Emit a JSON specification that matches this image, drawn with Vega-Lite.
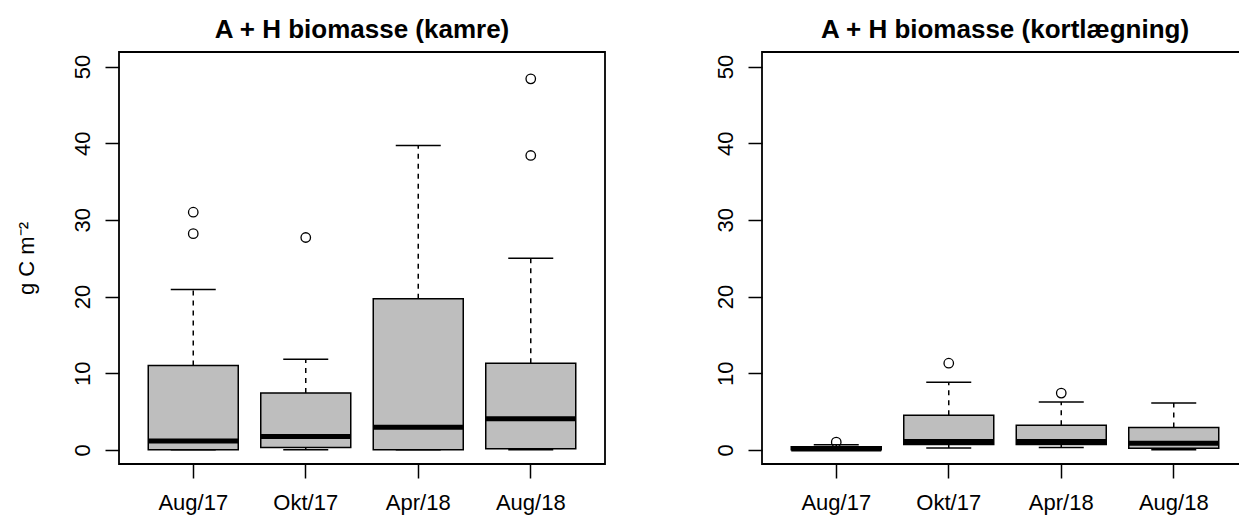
{
  "$schema": "https://vega.github.io/schema/vega-lite/v6.json",
  "autosize": {"type": "none"},
  "padding": {"left": 119, "top": 52, "right": 1120, "bottom": 51},
  "background": "white",
  "spacing": 157,
  "bounds": "flush",
  "config": {
    "font": "Liberation Sans",
    "view": {"stroke": "#000", "strokeWidth": 1.8},
    "axis": {
      "grid": false, "domain": false, "tickColor": "#000", "tickWidth": 1.5, "tickSize": 14,
      "labelFont": "Liberation Sans", "labelFontSize": 22, "labelColor": "#000",
      "titleFont": "Liberation Sans", "titleFontSize": 22, "titleColor": "#000", "titleFontWeight": "normal"
    },
    "title": {"font": "Liberation Sans", "fontSize": 26, "fontWeight": "bold", "color": "#000", "offset": 9}
  },
  "datasets": {
    "stats": [
      {"panel": "kamre", "g": "Aug/17", "lo": 0, "q1": 0, "med": 1.15, "q3": 11.0, "hi": 20.9},
      {"panel": "kamre", "g": "Okt/17", "lo": 0, "q1": 0.3, "med": 1.75, "q3": 7.4, "hi": 11.8},
      {"panel": "kamre", "g": "Apr/18", "lo": 0, "q1": 0, "med": 2.95, "q3": 19.7, "hi": 39.7},
      {"panel": "kamre", "g": "Aug/18", "lo": 0, "q1": 0.15, "med": 4.05, "q3": 11.3, "hi": 25.0},
      {"panel": "kort", "g": "Aug/17", "lo": 0, "q1": 0, "med": 0.1, "q3": 0.4, "hi": 0.65},
      {"panel": "kort", "g": "Okt/17", "lo": 0.25, "q1": 0.7, "med": 1.1, "q3": 4.5, "hi": 8.8},
      {"panel": "kort", "g": "Apr/18", "lo": 0.3, "q1": 0.7, "med": 1.1, "q3": 3.2, "hi": 6.25},
      {"panel": "kort", "g": "Aug/18", "lo": 0, "q1": 0.2, "med": 0.85, "q3": 2.9, "hi": 6.1}
    ],
    "out": [
      {"panel": "kamre", "g": "Aug/17", "v": 31.0},
      {"panel": "kamre", "g": "Aug/17", "v": 28.2},
      {"panel": "kamre", "g": "Okt/17", "v": 27.7},
      {"panel": "kamre", "g": "Aug/18", "v": 48.4},
      {"panel": "kamre", "g": "Aug/18", "v": 38.4},
      {"panel": "kort", "g": "Aug/17", "v": 1.0},
      {"panel": "kort", "g": "Okt/17", "v": 11.3},
      {"panel": "kort", "g": "Apr/18", "v": 7.4}
    ]
  },
  "hconcat": [
    {
      "width": 486, "height": 412,
      "title": "A + H biomasse (kamre)",
      "data": {"name": "stats"},
      "encoding": {
        "x": {"field": "g", "type": "nominal", "sort": ["Aug/17", "Okt/17", "Apr/18", "Aug/18"],
          "scale": {"paddingInner": 0.2, "paddingOuter": 0.26},
          "axis": {"title": null, "labelAngle": 0, "labelPadding": 14, "labelBaseline": "top"}}
      },
      "layer": [
        {"transform": [{"filter": "datum.panel == 'kamre'"}],
         "mark": {"type": "rule", "strokeDash": [5, 5], "strokeWidth": 1.5, "color": "#000"},
         "encoding": {
           "y": {"field": "lo", "type": "quantitative", "title": "g C m⁻²",
             "scale": {"domain": [-1.85, 51.9], "nice": false, "zero": false},
             "axis": {"values": [0, 10, 20, 30, 40, 50], "labelAngle": -90, "labelAlign": "center", "labelBaseline": "alphabetic", "labelPadding": 16,
               "titleX": -85.5, "titleY": 206, "titleAngle": -90, "titleBaseline": "alphabetic", "titleAlign": "center"}},
           "y2": {"field": "q1"}}},
        {"transform": [{"filter": "datum.panel == 'kamre'"}],
         "mark": {"type": "rule", "strokeDash": [5, 5], "strokeWidth": 1.5, "color": "#000"},
         "encoding": {"y": {"field": "q3", "type": "quantitative", "title": "g C m⁻²"}, "y2": {"field": "hi"}}},
        {"transform": [{"filter": "datum.panel == 'kamre'"}],
         "mark": {"type": "tick", "size": 45, "thickness": 1.5, "color": "#000", "opacity": 1},
         "encoding": {"y": {"field": "lo", "type": "quantitative", "title": "g C m⁻²"}}},
        {"transform": [{"filter": "datum.panel == 'kamre'"}],
         "mark": {"type": "tick", "size": 45, "thickness": 1.5, "color": "#000", "opacity": 1},
         "encoding": {"y": {"field": "hi", "type": "quantitative", "title": "g C m⁻²"}}},
        {"transform": [{"filter": "datum.panel == 'kamre'"}],
         "mark": {"type": "bar", "fill": "#bebebe", "stroke": "#000", "strokeWidth": 1.5, "width": {"band": 1}, "opacity": 1},
         "encoding": {"y": {"field": "q1", "type": "quantitative", "title": "g C m⁻²"}, "y2": {"field": "q3"}}},
        {"transform": [{"filter": "datum.panel == 'kamre'"}],
         "mark": {"type": "tick", "size": 90, "thickness": 5, "color": "#000", "opacity": 1},
         "encoding": {"y": {"field": "med", "type": "quantitative", "title": "g C m⁻²"}}},
        {"data": {"name": "out"},
         "transform": [{"filter": "datum.panel == 'kamre'"}],
         "mark": {"type": "point", "shape": "circle", "filled": false, "stroke": "#000", "strokeWidth": 1.3, "size": 90, "opacity": 1},
         "encoding": {"y": {"field": "v", "type": "quantitative", "title": "g C m⁻²"}}}
      ]
    },
    {
      "width": 486, "height": 412,
      "title": "A + H biomasse (kortlægning)",
      "data": {"name": "stats"},
      "encoding": {
        "x": {"field": "g", "type": "nominal", "sort": ["Aug/17", "Okt/17", "Apr/18", "Aug/18"],
          "scale": {"paddingInner": 0.2, "paddingOuter": 0.26},
          "axis": {"title": null, "labelAngle": 0, "labelPadding": 14, "labelBaseline": "top"}}
      },
      "layer": [
        {"transform": [{"filter": "datum.panel == 'kort'"}],
         "mark": {"type": "rule", "strokeDash": [5, 5], "strokeWidth": 1.5, "color": "#000"},
         "encoding": {
           "y": {"field": "lo", "type": "quantitative", "title": null,
             "scale": {"domain": [-1.85, 51.9], "nice": false, "zero": false},
             "axis": {"values": [0, 10, 20, 30, 40, 50], "labelAngle": -90, "labelAlign": "center", "labelBaseline": "alphabetic", "labelPadding": 16, "title": null}},
           "y2": {"field": "q1"}}},
        {"transform": [{"filter": "datum.panel == 'kort'"}],
         "mark": {"type": "rule", "strokeDash": [5, 5], "strokeWidth": 1.5, "color": "#000"},
         "encoding": {"y": {"field": "q3", "type": "quantitative", "title": null}, "y2": {"field": "hi"}}},
        {"transform": [{"filter": "datum.panel == 'kort'"}],
         "mark": {"type": "tick", "size": 45, "thickness": 1.5, "color": "#000", "opacity": 1},
         "encoding": {"y": {"field": "lo", "type": "quantitative", "title": null}}},
        {"transform": [{"filter": "datum.panel == 'kort'"}],
         "mark": {"type": "tick", "size": 45, "thickness": 1.5, "color": "#000", "opacity": 1},
         "encoding": {"y": {"field": "hi", "type": "quantitative", "title": null}}},
        {"transform": [{"filter": "datum.panel == 'kort'"}],
         "mark": {"type": "bar", "fill": "#bebebe", "stroke": "#000", "strokeWidth": 1.5, "width": {"band": 1}, "opacity": 1},
         "encoding": {"y": {"field": "q1", "type": "quantitative", "title": null}, "y2": {"field": "q3"}}},
        {"transform": [{"filter": "datum.panel == 'kort'"}],
         "mark": {"type": "tick", "size": 90, "thickness": 5, "color": "#000", "opacity": 1},
         "encoding": {"y": {"field": "med", "type": "quantitative", "title": null}}},
        {"data": {"name": "out"},
         "transform": [{"filter": "datum.panel == 'kort'"}],
         "mark": {"type": "point", "shape": "circle", "filled": false, "stroke": "#000", "strokeWidth": 1.3, "size": 90, "opacity": 1},
         "encoding": {"y": {"field": "v", "type": "quantitative", "title": null}}}
      ]
    }
  ]
}
